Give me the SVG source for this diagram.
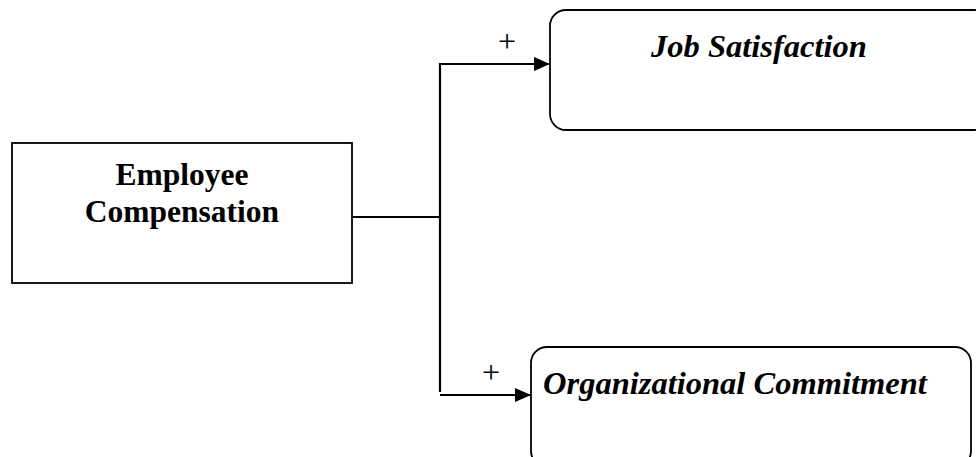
<svg xmlns="http://www.w3.org/2000/svg" width="976" height="457" viewBox="0 0 976 457">
<style>
.box{fill:#fff;stroke:#000;stroke-width:1.8}
.conn{fill:none;stroke:#000;stroke-width:2.2}
.t{font-family:"Liberation Serif","Times New Roman",serif;font-size:31.5px;font-weight:bold;fill:#000;text-anchor:middle}
.i{font-style:italic;font-size:32.5px}
.p{font-family:"Liberation Serif","Times New Roman",serif;font-size:32px;fill:#000;text-anchor:middle}
</style>
<defs>
<marker id="ah" markerWidth="16" markerHeight="14" refX="16" refY="7" orient="auto" markerUnits="userSpaceOnUse">
<path d="M0,0 L16,7 L0,14 Z" fill="#000"/>
</marker>
</defs>
<g id="connectors">
<path class="conn" d="M352,217 H440"/>
<path class="conn" d="M440,392 V64 H550" marker-end="url(#ah)"/>
<path class="conn" d="M440,395 H531" marker-end="url(#ah)"/>
<text class="p" x="507" y="52">+</text>
<text class="p" x="491" y="383">+</text>
</g>
<g id="employee-compensation">
<rect class="box" x="12" y="143" width="340" height="140"/>
<text class="t" x="182" y="185">Employee</text>
<text class="t" x="182" y="222">Compensation</text>
</g>
<g id="job-satisfaction">
<rect class="box" x="550" y="10" width="440" height="120" rx="16"/>
<text class="t i" x="759" y="57">Job Satisfaction</text>
</g>
<g id="organizational-commitment">
<rect class="box" x="531" y="347" width="440" height="120" rx="16"/>
<text class="t i" x="735" y="394">Organizational Commitment</text>
</g>
</svg>
